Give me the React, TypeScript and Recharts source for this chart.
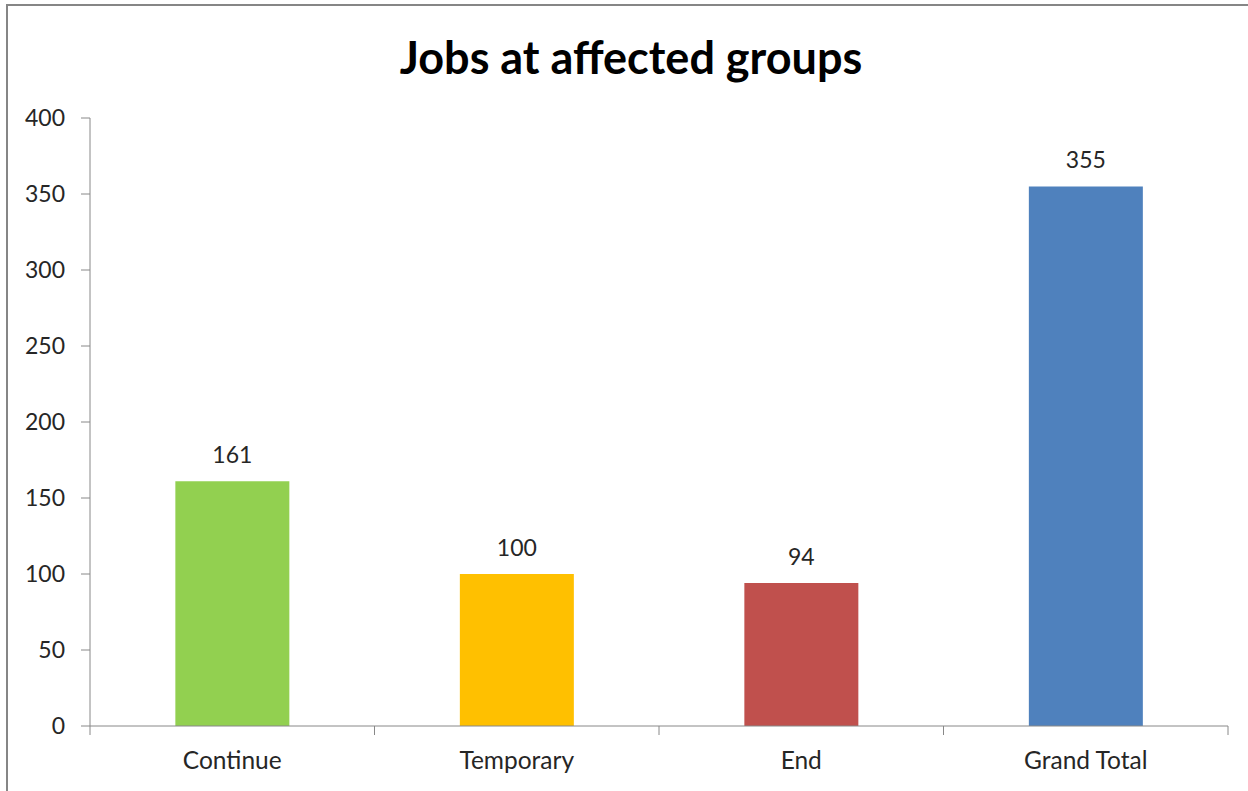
import { BarChart, Bar, XAxis, YAxis, Cell, LabelList } from 'recharts';

const categories = ['Continue', 'Temporary', 'End', 'Grand Total'];
const jobs = [161, 100, 94, 355];
const barColors = ['#92D050', '#FFC000', '#C0504D', '#4F81BD'];
const yTicks = [0, 50, 100, 150, 200, 250, 300, 350, 400];

const data = categories.map((name, i) => ({ name, jobs: jobs[i] }));

const font = 'Lato, "Open Sans", sans-serif';
const axisColor = '#888888';
const textColor = '#262626';
const catTickMargin = 26;
const catTickLen = 9;

// category label plus Excel-style tick marks on the category boundaries
const CategoryTick = (props: any) => {
  const { x, y, payload } = props;
  const half = payload?.offset ?? 0;
  const axisY = y - catTickMargin;
  const isLast = payload?.value === categories[categories.length - 1];
  return (
    <g>
      <line x1={x - half} x2={x - half} y1={axisY} y2={axisY + catTickLen} stroke={axisColor} />
      {isLast && <line x1={x + half} x2={x + half} y1={axisY} y2={axisY + catTickLen} stroke={axisColor} />}
      <text x={x} y={y} dy="0.71em" textAnchor="middle" fill={textColor} fontSize={24.5} fontFamily={font}>
        {payload?.value}
      </text>
    </g>
  );
};

export default function App() {
  return (
    <div style={{ position: 'absolute', left: 0, top: 0, width: 1248, height: 791, overflow: 'hidden', background: '#fff', fontFamily: font }}>
      <div style={{ position: 'absolute', left: 6, top: 4, width: 1300, height: 900, borderLeft: '2px solid #868686', borderTop: '2px solid #868686' }} />
      <div style={{ position: 'absolute', left: 6, top: 29, width: 1250, textAlign: 'center', fontSize: 45, fontWeight: 700, color: '#000', lineHeight: '56px' }}>
        Jobs at affected groups
      </div>
      <div style={{ position: 'absolute', left: 0, top: 0 }}>
        <BarChart width={1248} height={791} data={data} margin={{ top: 118, right: 20, bottom: 0, left: 0 }} barCategoryGap="30%">
          <XAxis dataKey="name" height={65} axisLine={{ stroke: axisColor }} tickLine={false} tickSize={0} tickMargin={catTickMargin} tick={CategoryTick} interval={0} />
          <YAxis domain={[0, 400]} ticks={yTicks} width={90} tickSize={9} tickMargin={16} axisLine={{ stroke: axisColor }} tickLine={{ stroke: axisColor }} tick={{ fill: textColor, fontSize: 23, fontFamily: font }} interval={0} />
          <Bar dataKey="jobs" isAnimationActive={false}>
            {data.map((d, i) => (
              <Cell key={d.name} fill={barColors[i]} />
            ))}
            <LabelList dataKey="jobs" position="top" offset={18} fill={textColor} fontSize={23} fontFamily={font} />
          </Bar>
        </BarChart>
      </div>
    </div>
  );
}
